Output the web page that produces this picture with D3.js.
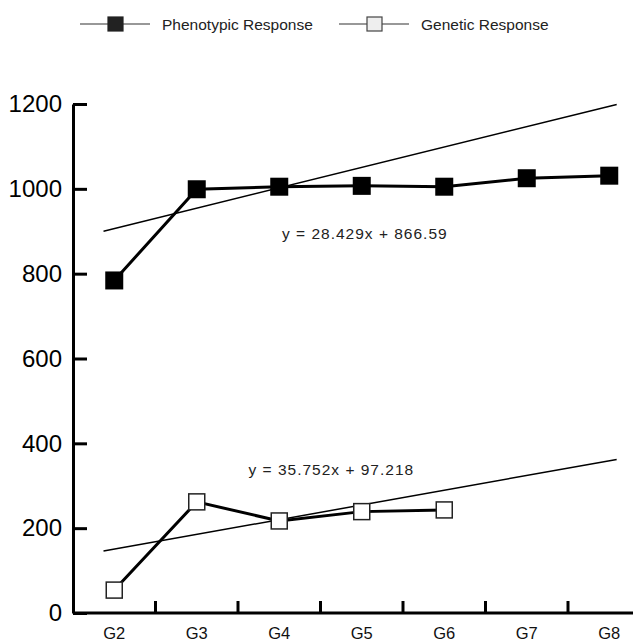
<!DOCTYPE html>
<html>
<head>
<meta charset="utf-8">
<script src="https://cdn.jsdelivr.net/npm/d3@7"></script>
<style>
  body { margin: 0; background: #fff; }
  svg { display: block; font-family: "Liberation Sans", Arial, sans-serif; }
</style>
</head>
<body>
<svg width="633" height="641"></svg>
<script>
let svg = d3.select("svg");

// data
let generations = ["G2", "G3", "G4", "G5", "G6", "G7", "G8"];
let phenotypic = [784, 999, 1005, 1007, 1005, 1025, 1031];
let genetic = [54, 262, 217, 239, 243];
let yTicks = [0, 200, 400, 600, 800, 1000, 1200];

// trend lines: [category index, value] at both ends
let phenoTrend = [[-0.13, 900], [6.09, 1199]];
let geneticTrend = [[-0.13, 146], [6.09, 362]];
let phenoEquation = "y = 28.429x + 866.59";
let geneticEquation = "y = 35.752x + 97.218";

// scales
let x = d3.scaleBand().domain(generations).range([73, 650.5]);
let xi = d3.scaleLinear()
    .domain([0, 1])
    .range([x("G2") + x.bandwidth() / 2, x("G3") + x.bandwidth() / 2]);
let y = d3.scaleLinear().domain([0, 1200]).range([613, 104]);

// y axis, ticks pointing inward
let yAxis = svg.append("g")
    .attr("transform", "translate(73,0)")
    .call(d3.axisLeft(y).tickValues(yTicks).tickFormat(d3.format("d"))
        .tickSizeInner(-14).tickSizeOuter(0).tickPadding(11));
yAxis.select(".domain").attr("stroke-width", 3);
yAxis.selectAll(".tick line").attr("stroke-width", 3);
yAxis.selectAll(".tick text")
    .attr("font-size", 24)
    .attr("font-family", "Liberation Sans, Arial, sans-serif")
    .attr("fill", "#000");

// x axis
let xAxis = svg.append("g")
    .attr("transform", "translate(0,613)")
    .call(d3.axisBottom(x).tickSize(0).tickPadding(14.5));
xAxis.select(".domain").attr("stroke-width", 3).attr("d", "M73,0H633");
xAxis.selectAll(".tick text")
    .attr("font-size", 16.5)
    .attr("font-family", "Liberation Sans, Arial, sans-serif")
    .attr("fill", "#111");

// boundary ticks between categories, pointing up
xAxis.selectAll(".bound")
    .data(generations.slice(1))
    .enter().append("line")
    .attr("class", "bound")
    .attr("x1", d => x(d)).attr("x2", d => x(d))
    .attr("y1", 0).attr("y2", -12)
    .attr("stroke", "#000")
    .attr("stroke-width", 3);

let line = d3.line()
    .x(d => xi(d[0]))
    .y(d => y(d[1]));

// trend lines
svg.append("path")
    .datum(phenoTrend)
    .attr("d", line)
    .attr("fill", "none").attr("stroke", "#000").attr("stroke-width", 1.5);
svg.append("path")
    .datum(geneticTrend)
    .attr("d", line)
    .attr("fill", "none").attr("stroke", "#000").attr("stroke-width", 1.5);

// series lines
svg.append("path")
    .datum(phenotypic.map((v, i) => [i, v]))
    .attr("d", line)
    .attr("fill", "none").attr("stroke", "#000").attr("stroke-width", 3);
svg.append("path")
    .datum(genetic.map((v, i) => [i, v]))
    .attr("d", line)
    .attr("fill", "none").attr("stroke", "#000").attr("stroke-width", 3);

// markers
let ps = 18;
svg.append("g").selectAll("rect")
    .data(phenotypic)
    .enter().append("rect")
    .attr("x", (d, i) => xi(i) - ps / 2)
    .attr("y", d => y(d) - ps / 2)
    .attr("width", ps).attr("height", ps)
    .attr("fill", "#000");

let gs = 16;
svg.append("g").selectAll("rect")
    .data(genetic)
    .enter().append("rect")
    .attr("x", (d, i) => xi(i) - gs / 2)
    .attr("y", d => y(d) - gs / 2)
    .attr("width", gs).attr("height", gs)
    .attr("fill", "#fff")
    .attr("stroke", "#222")
    .attr("stroke-width", 1.5);

// equations
let eqStyle = function(sel) {
    sel.attr("font-size", 15.5)
       .attr("letter-spacing", 1)
       .attr("fill", "#222");
};
svg.append("text").attr("x", 282).attr("y", 238.5).text(phenoEquation).call(eqStyle);
svg.append("text").attr("x", 248.5).attr("y", 475).text(geneticEquation).call(eqStyle);

// legend
let legend = [
    {label: "Phenotypic Response", x0: 80, fill: "#222", stroke: "#222"},
    {label: "Genetic Response", x0: 339, fill: "#eee", stroke: "#444"}
];
let lg = svg.append("g").selectAll("g")
    .data(legend)
    .enter().append("g")
    .attr("transform", d => "translate(" + d.x0 + ",24)");
lg.append("line")
    .attr("x1", 0).attr("x2", 70)
    .attr("stroke", "#333").attr("stroke-width", 1.2);
lg.append("rect")
    .attr("x", 28).attr("y", -7)
    .attr("width", 15).attr("height", 14)
    .attr("fill", d => d.fill)
    .attr("stroke", d => d.stroke)
    .attr("stroke-width", 1.2);
lg.append("text")
    .attr("x", 82).attr("y", 5.5)
    .attr("font-size", 15.5)
    .attr("fill", "#222")
    .text(d => d.label);
</script>
</body>
</html>
